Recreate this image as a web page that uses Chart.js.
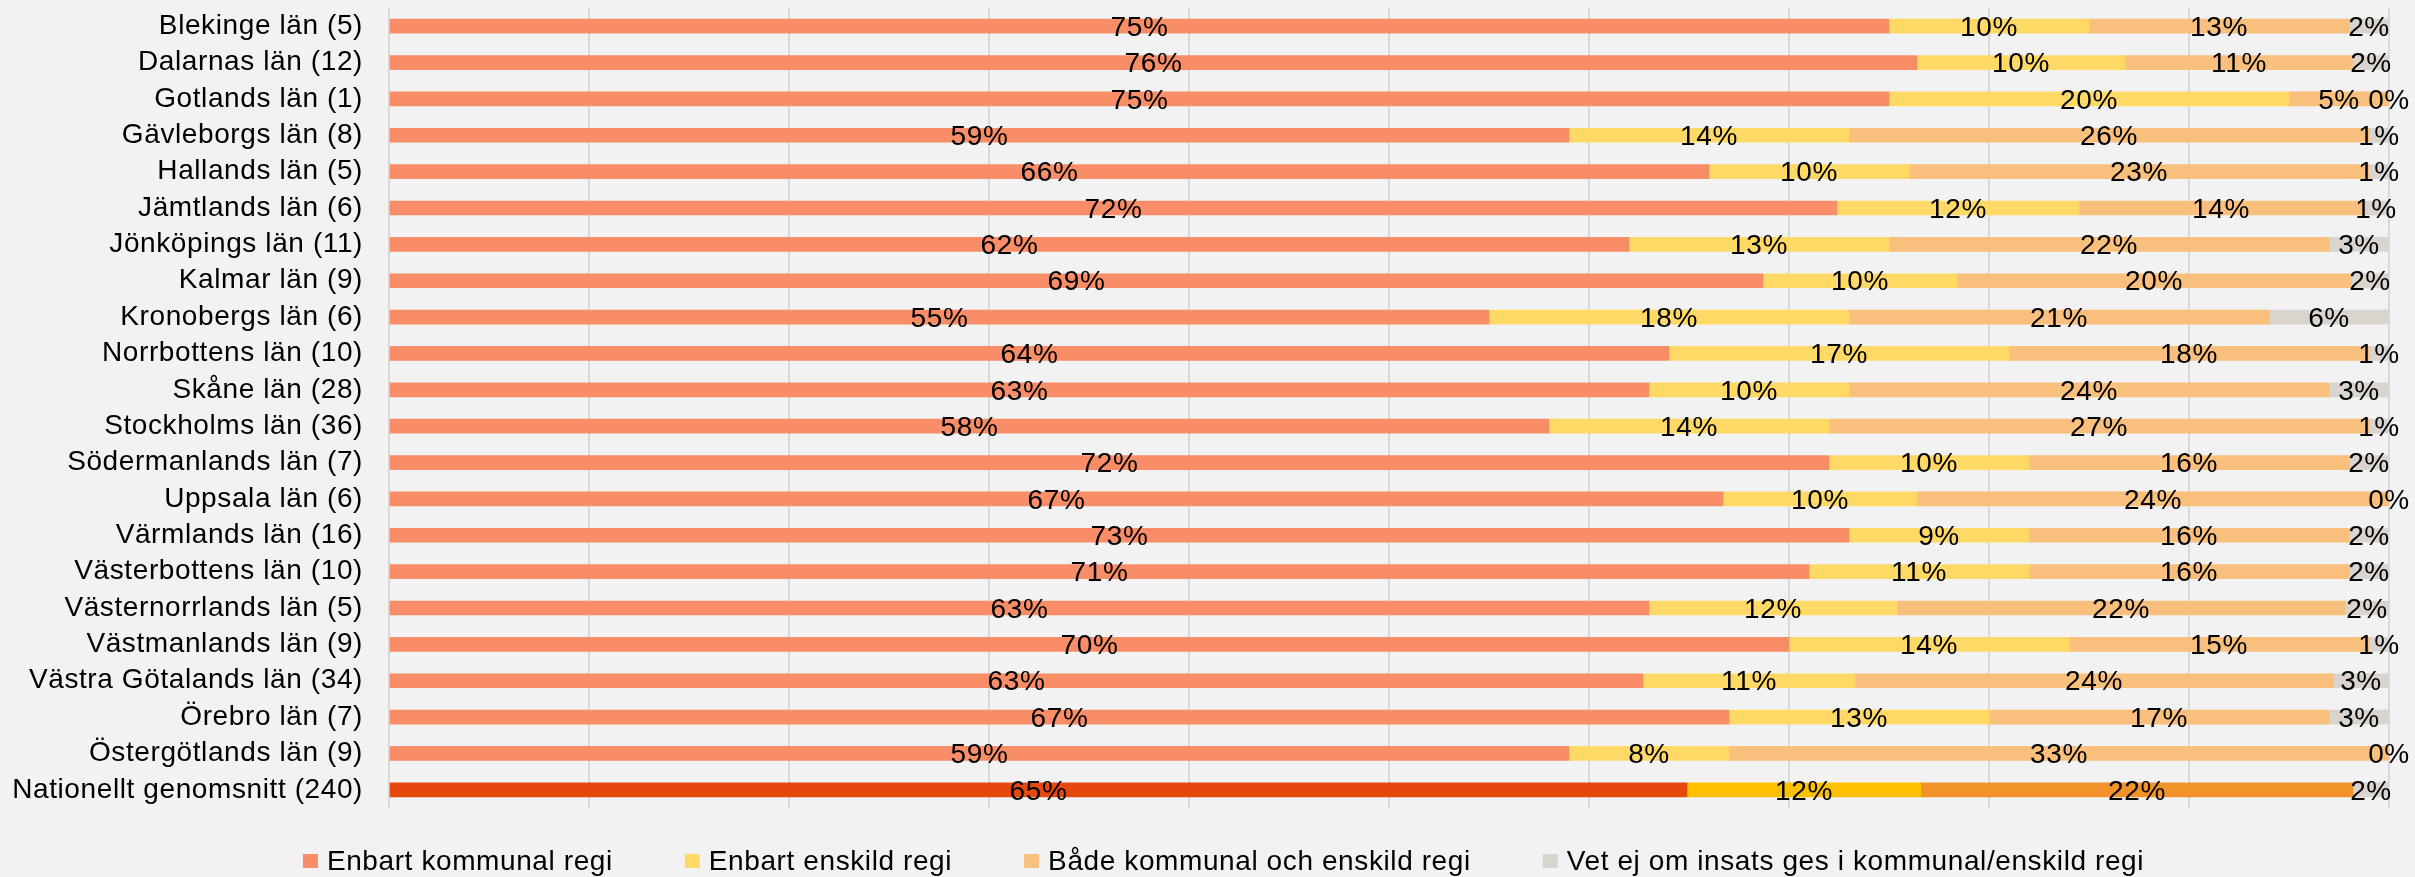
<!DOCTYPE html>
<html>
<head>
<meta charset="utf-8">
<script src="https://cdn.jsdelivr.net/npm/chart.js@4.4.0/dist/chart.umd.min.js"></script>
<style>
  html, body { margin: 0; padding: 0; background: #F2F2F2; }
  #wrap { width: 2415px; height: 877px; position: relative; }
</style>
</head>
<body>
<div id="wrap"><canvas id="c"></canvas></div>
<script>
const categories = [
  'Blekinge län (5)', 'Dalarnas län (12)', 'Gotlands län (1)', 'Gävleborgs län (8)',
  'Hallands län (5)', 'Jämtlands län (6)', 'Jönköpings län (11)', 'Kalmar län (9)',
  'Kronobergs län (6)', 'Norrbottens län (10)', 'Skåne län (28)', 'Stockholms län (36)',
  'Södermanlands län (7)', 'Uppsala län (6)', 'Värmlands län (16)', 'Västerbottens län (10)',
  'Västernorrlands län (5)', 'Västmanlands län (9)', 'Västra Götalands län (34)',
  'Örebro län (7)', 'Östergötlands län (9)', 'Nationellt genomsnitt (240)'
];
const seriesNames = [
  'Enbart kommunal regi',
  'Enbart enskild regi',
  'Både kommunal och enskild regi',
  'Vet ej om insats ges i kommunal/enskild regi'
];
const kommunal = [75, 76.4, 75, 59, 66, 72.4, 62, 68.7, 55, 64, 63, 58, 72, 66.7, 73, 71, 63.0, 70, 62.7, 67, 59, 64.9];
const enskild  = [10, 10.4, 20, 14, 10, 12.1, 13, 9.7, 18, 17, 10, 14, 10, 9.7, 9, 11, 12.4, 14, 10.6, 13, 8, 11.7];
const bada     = [13, 11.4, 5, 26, 23, 14.2, 22, 19.7, 21, 18, 24, 27, 16, 23.6, 16, 16, 22.4, 15, 23.9, 17, 33, 21.6];
const vetEj    = [2, 1.8, 0, 1, 1, 1.3, 3, 1.9, 6, 1, 3, 1, 2, 0, 2, 2, 2.2, 1, 2.8, 3, 0, 1.8];

const seriesColors   = ['#F88D67', '#FFD966', '#F8BF7D', '#D9D4CD'];
const nationalColors = ['#E5470C', '#FFC000', '#F2932A', '#D9D4CD'];

const FONT = "'Liberation Sans', Arial, sans-serif";
const FONT_SIZE = 28;
const SPACING = '0.6px';

const seriesData = [kommunal, enskild, bada, vetEj];
const lastIdx = categories.length - 1;

const datasets = seriesData.map((d, si) => ({
  label: seriesNames[si],
  data: d,
  backgroundColor: categories.map((c, i) => i === lastIdx ? nationalColors[si] : seriesColors[si]),
  borderWidth: 0,
  barThickness: 14
}));

const spacingPlugin = {
  id: 'spacing',
  beforeLayout(chart) { chart.ctx.letterSpacing = SPACING; },
  beforeDraw(chart) { chart.ctx.letterSpacing = SPACING; }
};

const valuePlugin = {
  id: 'values',
  afterDatasetsDraw(chart) {
    const ctx = chart.ctx;
    ctx.save();
    ctx.letterSpacing = SPACING;
    ctx.font = FONT_SIZE + 'px ' + FONT;
    ctx.fillStyle = '#000';
    ctx.textAlign = 'center';
    ctx.textBaseline = 'middle';
    chart.data.datasets.forEach((ds, di) => {
      const meta = chart.getDatasetMeta(di);
      meta.data.forEach((el, i) => {
        const p = el.getProps(['x', 'base', 'y'], true);
        ctx.fillText(Math.round(ds.data[i]) + '%', (p.x + p.base) / 2, p.y + 2);
      });
    });
    ctx.restore();
  }
};

const legendPlugin = {
  id: 'customLegend',
  afterDraw(chart) {
    const ctx = chart.ctx;
    ctx.save();
    ctx.letterSpacing = SPACING;
    ctx.font = FONT_SIZE + 'px ' + FONT;
    ctx.textBaseline = 'middle';
    ctx.textAlign = 'left';
    const boxW = 15, boxH = 14, gap = 9, itemGap = 72;
    const items = chart.data.datasets.map((ds, i) => ({
      text: ds.label, color: seriesColors[i], w: ctx.measureText(ds.label).width
    }));
    let total = 0;
    items.forEach((it, i) => { total += boxW + gap + it.w + (i < items.length - 1 ? itemGap : 0); });
    let x = chart.width / 2 + 16 - total / 2;
    const y = 861;
    items.forEach(it => {
      ctx.fillStyle = it.color;
      ctx.fillRect(x, y - boxH / 2, boxW, boxH);
      ctx.fillStyle = '#000';
      ctx.fillText(it.text, x + boxW + gap, y + 1);
      x += boxW + gap + it.w + itemGap;
    });
    ctx.restore();
  }
};

new Chart(document.getElementById('c'), {
  type: 'bar',
  data: { labels: categories, datasets },
  plugins: [spacingPlugin, valuePlugin, legendPlugin],
  options: {
    indexAxis: 'y',
    responsive: true,
    maintainAspectRatio: false,
    animation: false,
    layout: { padding: { left: 0, right: 26, top: 8, bottom: 69 } },
    plugins: {
      legend: { display: false },
      tooltip: { enabled: false }
    },
    scales: {
      x: {
        stacked: true,
        min: 0,
        max: 100,
        ticks: { display: false, stepSize: 10 },
        grid: { color: '#D9D9D9', lineWidth: 2, drawTicks: false },
        border: { display: false }
      },
      y: {
        stacked: true,
        ticks: {
          color: '#000',
          font: { family: FONT, size: FONT_SIZE },
          padding: 26,
          autoSkip: false
        },
        grid: { display: false, drawTicks: false },
        border: { display: false },
        afterFit(scale) {
          scale.width = 389;
          scale.paddingTop = 0;
          scale.paddingBottom = 0;
        }
      }
    }
  }
});
</script>
</body>
</html>
